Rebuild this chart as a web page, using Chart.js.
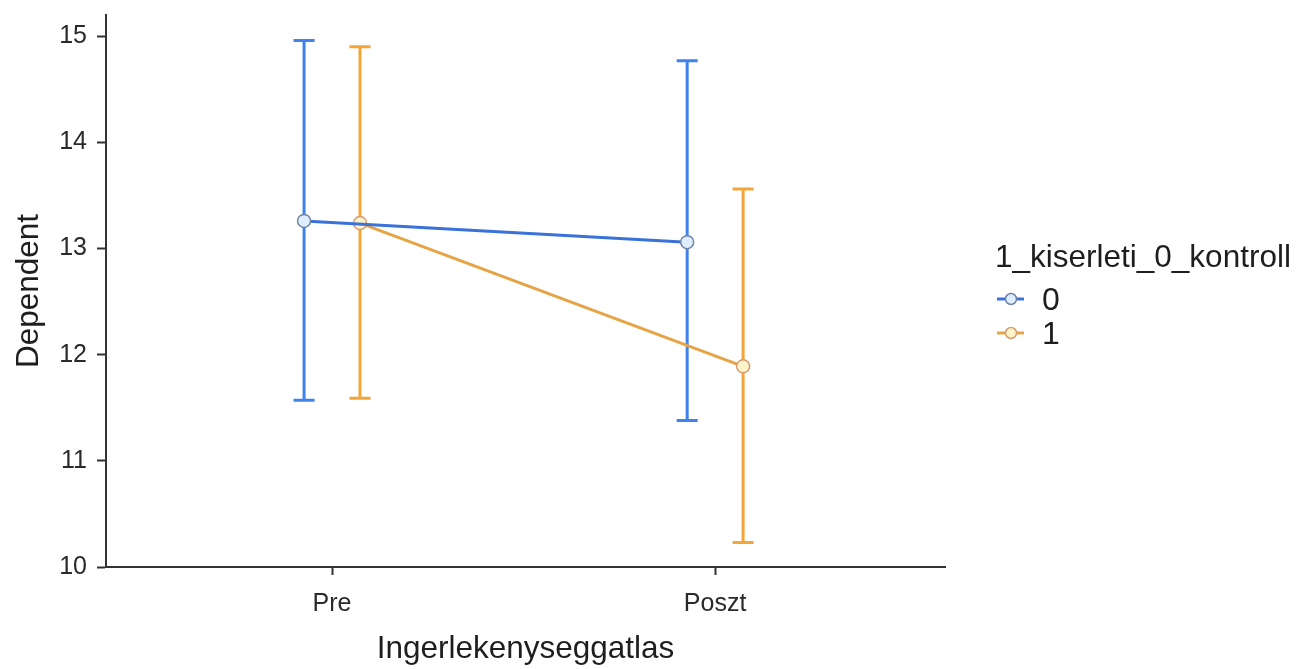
<!DOCTYPE html>
<html>
<head>
<meta charset="utf-8">
<script src="https://cdn.jsdelivr.net/npm/chart.js@4"></script>
<style>
  html, body { margin: 0; padding: 0; background: #ffffff; }
  #wrap { width: 1312px; height: 669px; position: relative; }
</style>
</head>
<body>
<div id="wrap"><canvas id="chart" width="1312" height="669"></canvas></div>
<script>
// Measurement occasions on the x axis
const categories = ['Pre', 'Poszt'];
// Group codes shown in the legend
const groups = ['0', '1'];
const legendTitle = '1_kiserleti_0_kontroll';

// Group 0: means and interval bounds
const means0 = [13.26, 13.06];
const lower0 = [11.57, 11.38];
const upper0 = [14.96, 14.77];

// Group 1: means and interval bounds
const means1 = [13.24, 11.89];
const lower1 = [11.59, 10.23];
const upper1 = [14.90, 13.56];

// Y axis tick values
const yTicks = [10, 11, 12, 13, 14, 15];

const FONT = '"Liberation Sans", Arial, Helvetica, sans-serif';
const DODGE = [-0.073, 0.073];

const seriesStyle = [
  { line: '#3a72da', bar: '#3f82ea', fill: '#deeeff', edge: '#7083a2' },
  { line: '#e5a445', bar: '#f2a63a', fill: '#fff4c8', edge: '#d89a72' }
];

const seriesData = [
  { means: means0, lower: lower0, upper: upper0 },
  { means: means1, lower: lower1, upper: upper1 }
];

const datasets = seriesData.map((s, g) => ({
  label: groups[g],
  data: s.means.map((m, i) => ({ x: i + DODGE[g], y: m })),
  errLow: s.lower,
  errHigh: s.upper,
  barColor: seriesStyle[g].bar,
  borderColor: seriesStyle[g].line,
  borderWidth: 3,
  pointRadius: 6.5,
  pointBorderWidth: 1.5,
  pointBackgroundColor: seriesStyle[g].fill,
  pointBorderColor: seriesStyle[g].edge,
  tension: 0,
  fill: false
}));

// Vertical interval bars with caps, drawn beneath lines and points
const errorBars = {
  id: 'errorBars',
  beforeDatasetsDraw(chart) {
    const { ctx, scales: { x, y } } = chart;
    ctx.save();
    chart.data.datasets.forEach(ds => {
      ctx.strokeStyle = ds.barColor;
      ctx.lineWidth = 3;
      ds.data.forEach((pt, i) => {
        const px = x.getPixelForValue(pt.x);
        const top = y.getPixelForValue(ds.errHigh[i]);
        const bot = y.getPixelForValue(ds.errLow[i]);
        const cap = 10.5;
        ctx.beginPath();
        ctx.moveTo(px, top); ctx.lineTo(px, bot);
        ctx.moveTo(px - cap, top); ctx.lineTo(px + cap, top);
        ctx.moveTo(px - cap, bot); ctx.lineTo(px + cap, bot);
        ctx.stroke();
      });
    });
    ctx.restore();
  }
};

// Legend block to the right of the plot
const sideLegend = {
  id: 'sideLegend',
  afterDraw(chart) {
    const { ctx } = chart;
    ctx.save();
    ctx.fillStyle = '#1e1e1e';
    ctx.font = '31.5px ' + FONT;
    ctx.textBaseline = 'alphabetic';
    ctx.textAlign = 'left';
    ctx.fillText(legendTitle, 995, 267);
    chart.data.datasets.forEach((ds, i) => {
      const cy = 299 + i * 34;
      ctx.strokeStyle = ds.borderColor;
      ctx.lineWidth = 3;
      ctx.beginPath();
      ctx.moveTo(997, cy); ctx.lineTo(1024, cy);
      ctx.stroke();
      ctx.beginPath();
      ctx.arc(1011, cy, 5.5, 0, Math.PI * 2);
      ctx.fillStyle = ds.pointBackgroundColor;
      ctx.fill();
      ctx.lineWidth = 1.5;
      ctx.strokeStyle = ds.pointBorderColor;
      ctx.stroke();
      ctx.fillStyle = '#1e1e1e';
      ctx.font = '32px ' + FONT;
      ctx.fillText(ds.label, 1042, cy + 11);
    });
    ctx.restore();
  }
};

new Chart(document.getElementById('chart'), {
  type: 'line',
  data: { datasets },
  plugins: [errorBars, sideLegend],
  options: {
    responsive: false,
    animation: false,
    layout: { padding: { left: 0, right: 367, top: 15, bottom: 0 } },
    plugins: { legend: { display: false }, tooltip: { enabled: false } },
    scales: {
      x: {
        type: 'linear',
        min: -0.59,
        max: 1.6,
        afterBuildTicks(s) { s.ticks = categories.map((c, i) => ({ value: i })); },
        afterFit(s) { s.height = 102; s.paddingLeft = 0; s.paddingRight = 0; },
        ticks: {
          autoSkip: false,
          maxRotation: 0,
          padding: 14,
          color: '#2a2a2a',
          font: { family: FONT, size: 25 },
          callback: v => categories[v] !== undefined ? categories[v] : ''
        },
        grid: { drawOnChartArea: false, drawTicks: true, tickLength: 8, tickWidth: 2, tickColor: '#333333' },
        border: { display: true, color: '#333333', width: 2 },
        title: {
          display: true,
          text: 'Ingerlekenyseggatlas',
          color: '#1e1e1e',
          font: { family: FONT, size: 31.5 },
          padding: { top: 0, bottom: 0.6 }
        }
      },
      y: {
        type: 'linear',
        min: 10,
        max: 15.2,
        afterBuildTicks(s) { s.ticks = yTicks.map(v => ({ value: v })); },
        afterFit(s) { s.width = 106; s.paddingTop = 0; s.paddingBottom = 0; },
        ticks: {
          padding: 10,
          color: '#2a2a2a',
          font: { family: FONT, size: 25 },
          callback: v => String(v)
        },
        grid: { drawOnChartArea: false, drawTicks: true, tickLength: 9, tickWidth: 2, tickColor: '#333333' },
        border: { display: true, color: '#333333', width: 2 },
        title: {
          display: true,
          text: 'Dependent',
          color: '#1e1e1e',
          font: { family: FONT, size: 31.5 },
          padding: { top: 10, bottom: 0 }
        }
      }
    }
  }
});
</script>
</body>
</html>
